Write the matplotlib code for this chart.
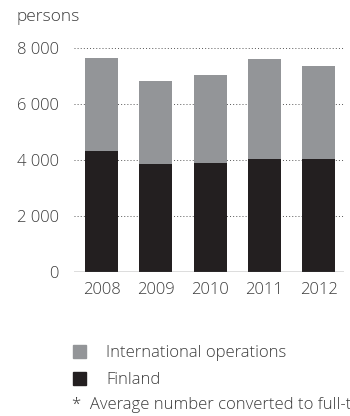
import numpy as np
import matplotlib
matplotlib.use("Agg")
import matplotlib.pyplot as plt
from matplotlib.patches import Patch

years = ["2008", "2009", "2010", "2011", "2012"]
finland = [4310, 3870, 3900, 4050, 4050]
total = [7640, 6820, 7040, 7610, 7360]
international = [t - f for t, f in zip(total, finland)]
yticks = [0, 2000, 4000, 6000, 8000]
ytick_labels = ["0", "2 000", "4 000", "6 000", "8 000"]

grey = "#939598"
black = "#231f20"
txt = "#3c3c3c"
fam = ['Open Sans', 'DejaVu Sans']

plt.rcParams['font.family'] = fam
plt.rcParams['font.weight'] = 300

fig = plt.figure(figsize=(3.5, 4.16), dpi=100)
ax = fig.add_axes([0.2114, 0.346, 0.7716, 0.5385])

x = np.arange(len(years))
ax.bar(x, finland, width=0.61, color=black, zorder=3)
ax.bar(x, international, bottom=finland, width=0.61, color=grey, zorder=3)

# dotted grid lines
for v in yticks[1:]:
    ax.axhline(v, color="#555555", lw=0.7, ls=(0, (1, 2.2)), zorder=1, clip_on=False)
ax.axhline(0, color="#555555", lw=1.0, zorder=4)

ax.set_xlim(-0.51, 4.47)
ax.set_ylim(0, 8000)
ax.set_xticks(x)
ax.set_xticklabels(years)
ax.set_yticks(yticks)
ax.set_yticklabels(ytick_labels)
ax.tick_params(length=0, labelsize=12, colors=txt, labelcolor=txt)
ax.tick_params(axis="x", pad=7)
ax.tick_params(axis="y", pad=11)
for s in ax.spines.values():
    s.set_visible(False)

fig.text(17 / 350, 1 - 17 / 416, "persons", fontsize=12.5, color=txt,
         va="center", ha="left")

handles = [Patch(color=grey), Patch(color=black)]
fig.legend(handles, ["International operations", "Finland"],
           loc="upper left", bbox_to_anchor=(58 / 350, 1 - 330 / 416),
           frameon=False, handlelength=0.8, handleheight=0.8,
           handletextpad=1.2, labelspacing=0.65, labelcolor=txt,
           prop={"family": fam, "weight": 300, "size": 12})

fig.text(72 / 350, 1 - 405 / 416, "*  Average number converted to full-t",
         fontsize=12, color=txt, va="center", ha="left")

fig.savefig("out.png", dpi=100)
